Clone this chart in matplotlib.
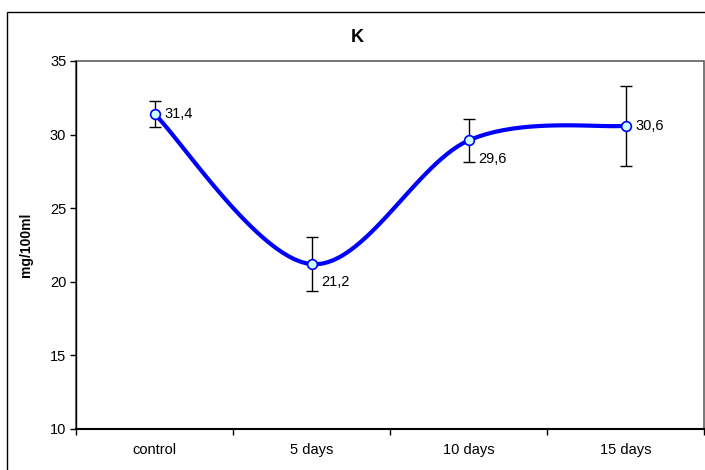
import matplotlib.pyplot as plt
import numpy as np
from matplotlib.patches import Rectangle

plt.rcParams['font.family'] = ['Liberation Sans', 'DejaVu Sans']

categories = ['control', '5 days', '10 days', '15 days']
values = [31.4, 21.2, 29.6, 30.6]
errors = [0.9, 1.85, 1.45, 2.7]
labels = ['31,4', '21,2', '29,6', '30,6']

fig = plt.figure(figsize=(7.05, 4.7), dpi=100)
W, H = 705, 470
ax = fig.add_axes([76 / W, 1 - 429 / H, (704 - 76) / W, (429 - 61) / H])

x = np.arange(len(values), dtype=float)
y = np.array(values)

# excel-style smoothing: bezier with tangents (p[i+1]-p[i-1])/6
px, py = [], []
t = np.linspace(0, 1, 30)
for i in range(len(x) - 1):
    p0 = np.array([x[i], y[i]])
    p3 = np.array([x[i + 1], y[i + 1]])
    prev = np.array([x[i - 1], y[i - 1]]) if i > 0 else p0
    nxt = np.array([x[i + 2], y[i + 2]]) if i + 2 < len(x) else p3
    p1 = p0 + (p3 - prev) / 6
    p2 = p3 - (nxt - p0) / 6
    b = ((1 - t) ** 3)[:, None] * p0 + (3 * (1 - t) ** 2 * t)[:, None] * p1 \
        + (3 * (1 - t) * t ** 2)[:, None] * p2 + (t ** 3)[:, None] * p3
    px.extend(b[:, 0])
    py.extend(b[:, 1])

ax.errorbar(x, y, yerr=errors, fmt='none', ecolor='black', elinewidth=1,
            capsize=4, capthick=1, zorder=2)
ax.plot(px, py, color='#0000FF', lw=3, zorder=3, solid_capstyle='round')
ax.plot(x, y, 'o', ms=7, mfc='#CCFFFF', mec='#0000FF', mew=1.2, zorder=4)

offsets = [(7, 0, 'center'), (7, -8, 'top'), (7, -8, 'top'), (7, 0, 'center')]
for xi, yi, lab, (dx, dy, va) in zip(x, y, labels, offsets):
    ax.annotate(lab, (xi, yi), xytext=(dx, dy), textcoords='offset points',
                ha='left', va=va, fontsize=10.5)

ax.set_xlim(-0.5, 3.5)
ax.set_ylim(10, 35)
ax.set_yticks([10, 15, 20, 25, 30, 35])
ax.set_xticks([-0.5, 0.5, 1.5, 2.5, 3.5])
ax.set_xticklabels([])
ax.set_xticks(x, minor=True)
ax.set_xticklabels(categories, minor=True)
ax.tick_params(axis='x', which='minor', length=0, pad=10, labelsize=10.5)
ax.tick_params(axis='x', which='major', length=4, direction='out', width=1)
ax.tick_params(axis='y', length=4, direction='out', width=1, labelsize=10.5, pad=3)
for s in ['top', 'right']:
    ax.spines[s].set_visible(False)
ax.spines['left'].set_color('black')
ax.spines['bottom'].set_color('black')
ax.spines['bottom'].set_linewidth(1.5)
ax.spines['left'].set_linewidth(1.0)
# plot area border
ax.add_patch(Rectangle((0, 0), 1, 1, transform=ax.transAxes, fill=False,
                       ec='#606060', lw=1.2, zorder=1, clip_on=False))

ax.set_ylabel('mg/100ml', fontweight='bold', fontsize=10, labelpad=12)

fig.text(357 / W, 1 - 38 / H, 'K', ha='center', va='center',
         fontweight='bold', fontsize=13)

# chart frame (right and bottom edges fall outside the image)
fig.patches.append(Rectangle((7 / W, -0.1), 1.2, 1.1 - 12 / H, transform=fig.transFigure,
                             fill=False, ec='black', lw=1, zorder=0))

fig.savefig('out.png', dpi=100)
